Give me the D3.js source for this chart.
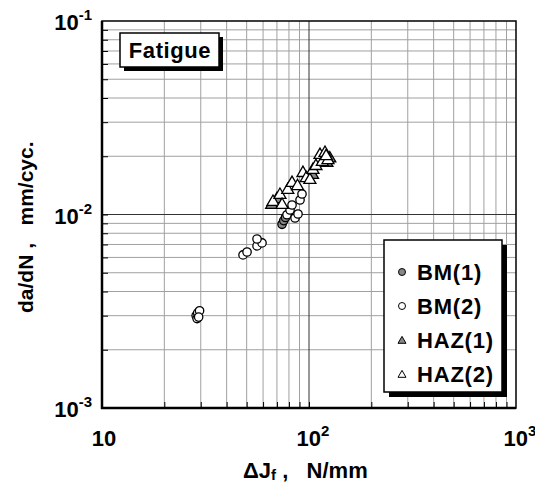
<!DOCTYPE html>
<html>
<head>
<meta charset="utf-8">
<script src="https://cdn.jsdelivr.net/npm/d3@7"></script>
<style>
  html, body { margin: 0; padding: 0; background: #fff; }
  svg { display: block; font-family: "Liberation Sans", Arial, sans-serif; font-weight: bold; }
  text { white-space: pre; }
</style>
</head>
<body>
<svg id="chart" width="535" height="485"></svg>
<script>
// Fatigue crack growth rate vs. ΔJf
const bm1 = [ // [ΔJf N/mm, da/dN mm/cyc]
  [74.1, 0.00890], [75.5, 0.00930], [77.0, 0.00965]
];
const bm2 = [
  [28.5, 0.00300], [29.0, 0.00310], [29.6, 0.00318], [28.8, 0.00290], [29.3, 0.00295],
  [48.0, 0.00618], [50.2, 0.00640], [56.1, 0.00688], [59.3, 0.00713], [56.1, 0.00747],
  [78.3, 0.00997], [81.0, 0.01055], [85.6, 0.00959], [88.5, 0.01006], [82.8, 0.01120],
  [90.5, 0.01188], [92.5, 0.01276]
];
const haz1 = [
  [66.0, 0.01120], [70.0, 0.01200], [104.0, 0.01600], [122.0, 0.01850], [126.0, 0.01950]
];
const haz2 = [
  [67.0, 0.01161], [72.4, 0.01262], [74.1, 0.01120], [79.0, 0.01340], [82.8, 0.01455],
  [88.0, 0.01400], [93.5, 0.01638], [97.0, 0.01540], [101.0, 0.01508], [104.5, 0.01698],
  [108.0, 0.01780], [113.0, 0.02030], [116.0, 0.01870], [119.5, 0.02080], [123.5, 0.01910],
  [121.0, 0.02000]
];
const xDecades = [10, 100, 1000];
const yDecades = [0.001, 0.01, 0.1];
const xTickLabels = [["10", ""], ["10", "2"], ["10", "3"]];
const yTickLabels = [["10", "-3"], ["10", "-2"], ["10", "-1"]];
const legendLabels = ["BM(1)", "BM(2)", "HAZ(1)", "HAZ(2)"];

const svg = d3.select("#chart");
const L = 102, R = 516, T = 21, B = 408;
const x = d3.scaleLog().domain([10, 1000]).range([L, R]);
const y = d3.scaleLog().domain([0.001, 0.1]).range([B, T]);

// minor + major grid values
const minorX = [], minorY = [];
for (let d = 10; d < 1000; d *= 10) for (let k = 2; k <= 9; k++) minorX.push(d * k);
for (let d = 0.001; d < 0.1; d *= 10) for (let k = 2; k <= 9; k++) minorY.push(+(d * k).toPrecision(3));

const grid = svg.append("g");
grid.selectAll(".gx").data(minorX).join("line")
  .attr("x1", d => x(d)).attr("x2", d => x(d)).attr("y1", T).attr("y2", B)
  .attr("stroke", "#a0a0a0").attr("stroke-width", 1);
grid.selectAll(".gy").data(minorY).join("line")
  .attr("y1", d => y(d)).attr("y2", d => y(d)).attr("x1", L).attr("x2", R)
  .attr("stroke", "#a0a0a0").attr("stroke-width", 1);
grid.append("line").attr("x1", x(100)).attr("x2", x(100)).attr("y1", T).attr("y2", B)
  .attr("stroke", "#333").attr("stroke-width", 1);
grid.append("line").attr("y1", y(0.01)).attr("y2", y(0.01)).attr("x1", L).attr("x2", R)
  .attr("stroke", "#333").attr("stroke-width", 1);

// inward ticks via d3 axes
const xAxis = d3.axisBottom(x).tickValues(minorX.concat([100])).tickSize(-6).tickFormat("");
svg.append("g").attr("transform", `translate(0,${B})`).call(xAxis)
  .call(g => g.select(".domain").remove())
  .selectAll("line").attr("stroke", "#000");
const yAxis = d3.axisLeft(y).tickValues(minorY.concat([0.01])).tickSize(-6).tickFormat("");
svg.append("g").attr("transform", `translate(${L},0)`).call(yAxis)
  .call(g => g.select(".domain").remove())
  .selectAll("line").attr("stroke", "#000");

// frame
svg.append("rect").attr("x", L).attr("y", T).attr("width", R - L).attr("height", B - T)
  .attr("fill", "none").attr("stroke", "#000").attr("stroke-width", 1.5);
svg.append("line").attr("x1", L).attr("x2", L).attr("y1", T).attr("y2", B + 1)
  .attr("stroke", "#000").attr("stroke-width", 2.5);
svg.append("line").attr("x1", L - 1).attr("x2", R).attr("y1", B).attr("y2", B)
  .attr("stroke", "#000").attr("stroke-width", 2.5);

// tick labels
const xl = svg.append("g").selectAll("text").data(xDecades).join("text")
  .attr("x", (d, i) => x(d) + (i === 0 ? 2 : 4)).attr("y", 446).attr("text-anchor", "middle")
  .attr("font-size", 22);
xl.append("tspan").text((d, i) => xTickLabels[i][0]);
xl.append("tspan").attr("dy", -10).attr("font-size", 15).text((d, i) => xTickLabels[i][1]);

const yl = svg.append("g").selectAll("text").data(yDecades).join("text")
  .attr("x", 92).attr("y", d => y(d) + 9).attr("text-anchor", "end")
  .attr("font-size", 22);
yl.append("tspan").text((d, i) => yTickLabels[i][0]);
yl.append("tspan").attr("dy", -10).attr("font-size", 15).text((d, i) => yTickLabels[i][1]);

// axis titles
const xt = svg.append("text").attr("x", 243).attr("y", 478).attr("font-size", 22);
xt.append("tspan").text("ΔJ");
xt.append("tspan").attr("font-size", 15).attr("dy", 2).text("f");
xt.append("tspan").attr("dy", -2).text(" ,   N/mm");

svg.append("text").attr("transform", "translate(33,313) rotate(-90)")
  .attr("font-size", 21).text("da/dN ,   mm/cyc.");

// markers
const triPath = s => {
  const h = s * Math.sqrt(3) / 2;
  return `M0,${-h * 2 / 3}L${s / 2},${h / 3}L${-s / 2},${h / 3}Z`;
};
const pts = svg.append("g");
pts.selectAll(".b1").data(bm1).join("circle")
  .attr("cx", d => x(d[0])).attr("cy", d => y(d[1])).attr("r", 4.2)
  .attr("fill", "#888").attr("stroke", "#000").attr("stroke-width", 1.3);
pts.selectAll(".b2").data(bm2).join("circle")
  .attr("cx", d => x(d[0])).attr("cy", d => y(d[1])).attr("r", 4.2)
  .attr("fill", "#fff").attr("stroke", "#000").attr("stroke-width", 1.3);
pts.selectAll(".h1").data(haz1).join("path")
  .attr("transform", d => `translate(${x(d[0])},${y(d[1])})`).attr("d", triPath(12))
  .attr("fill", "#888").attr("stroke", "#000").attr("stroke-width", 1.3);
pts.selectAll(".h2").data(haz2).join("path")
  .attr("transform", d => `translate(${x(d[0])},${y(d[1])})`).attr("d", triPath(12))
  .attr("fill", "#fff").attr("stroke", "#000").attr("stroke-width", 1.3);

// "Fatigue" label box
svg.append("rect").attr("x", 124).attr("y", 37).attr("width", 99).attr("height", 34).attr("fill", "#000");
svg.append("rect").attr("x", 120).attr("y", 33).attr("width", 99).attr("height", 34)
  .attr("fill", "#fff").attr("stroke", "#000").attr("stroke-width", 1.5);
svg.append("text").attr("x", 170).attr("y", 58).attr("text-anchor", "middle")
  .attr("font-size", 22).attr("letter-spacing", 0.6).text("Fatigue");

// legend
const lg = svg.append("g");
lg.append("rect").attr("x", 389).attr("y", 245).attr("width", 118).attr("height", 152).attr("fill", "#000");
lg.append("rect").attr("x", 384).attr("y", 240).attr("width", 118).attr("height", 152)
  .attr("fill", "#fff").attr("stroke", "#000").attr("stroke-width", 1.5);
const legY = [272, 306, 340, 374];
const items = lg.selectAll(".item").data(legendLabels).join("g")
  .attr("transform", (d, i) => `translate(0,${legY[i]})`);
items.each(function(d, i) {
  const g = d3.select(this);
  if (i < 2) {
    g.append("circle").attr("cx", 402).attr("cy", 0).attr("r", 3.5)
      .attr("fill", i === 0 ? "#888" : "#fff").attr("stroke", "#000").attr("stroke-width", 1);
  } else {
    g.append("path").attr("transform", "translate(402,1)").attr("d", triPath(8))
      .attr("fill", i === 2 ? "#888" : "#fff").attr("stroke", "#000").attr("stroke-width", 1);
  }
  g.append("text").attr("x", 417).attr("y", 8).attr("font-size", 22)
    .attr("letter-spacing", 0.8).text(d);
});
</script>
</body>
</html>
